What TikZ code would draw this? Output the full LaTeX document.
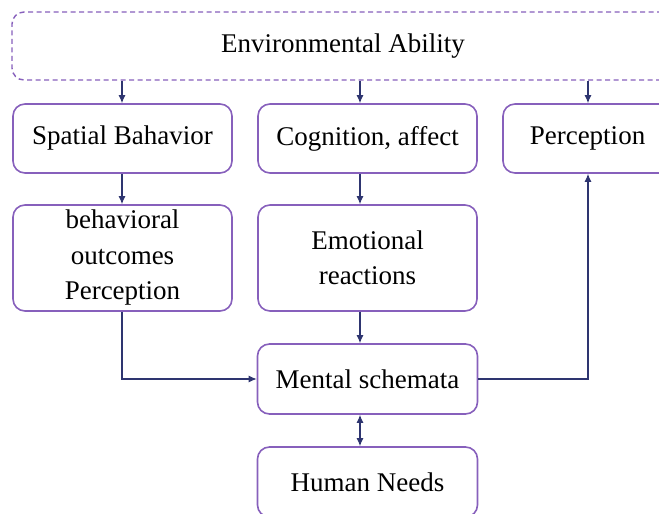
\documentclass[tikz,border=0pt]{standalone}
\usepackage{fontspec}
\setmainfont{Liberation Serif}
\usetikzlibrary{arrows.meta}
\definecolor{boxc}{HTML}{8760BC}
\definecolor{arrc}{HTML}{2E3570}
\begin{document}
\begin{tikzpicture}[x=1pt,y=-1pt,
  box/.style={draw=boxc, line width=1.6pt, rounded corners=12pt, align=center,
    font=\fontsize{27}{35.5}\selectfont, inner sep=0pt, fill=white},
  conn/.style={draw=arrc, line width=1.1pt, -{Latex[length=8pt,width=7pt]}},
  dconn/.style={draw=arrc, line width=1.1pt, {Latex[length=8pt,width=7pt]}-{Latex[length=8pt,width=7pt]}}]
\useasboundingbox (0,0) rectangle (659,514);
\clip (0,0) rectangle (659,514);
\node[box, dash pattern=on 5pt off 3.5pt, line width=1.4pt, minimum width=662pt, minimum height=68pt] (env) at (343,46) {Environmental Ability};
\node[box, minimum width=219pt, minimum height=69pt] (sb) at (122.5,138.5) {Spatial Bahavior};
\node[box, minimum width=219pt, minimum height=69pt] (ca) at (367.5,138.5) {Cognition, affect};
\node[box, minimum width=169pt, minimum height=69pt] (pe) at (587.5,138.5) {Perception};
\node[box, minimum width=219pt, minimum height=106pt] (bo) at (122.5,258) {behavioral\\outcomes\\Perception};
\node[box, minimum width=219pt, minimum height=106pt] (er) at (367.5,258) {Emotional\\reactions};
\node[box, minimum width=220pt, minimum height=70pt] (ms) at (367.5,379) {Mental schemata};
\node[box, minimum width=220pt, minimum height=70pt] (hn) at (367.5,482) {Human Needs};
\coordinate (lx) at (122,0);
\coordinate (mx) at (360,0);
\coordinate (rx) at (588,0);
\draw[conn] (env.south -| lx) -- (sb.north -| lx);
\draw[conn] (env.south -| mx) -- (ca.north -| mx);
\draw[conn] (env.south -| rx) -- (pe.north -| rx);
\draw[conn] (sb.south -| lx) -- (bo.north -| lx);
\draw[conn] (ca.south -| mx) -- (er.north -| mx);
\draw[conn] (er.south -| mx) -- (ms.north -| mx);
\draw[dconn] (ms.south -| mx) -- (hn.north -| mx);
\draw[conn] (bo.south -| lx) |- (ms.west);
\draw[conn] (ms.east) -| (pe.south -| rx);
\end{tikzpicture}
\end{document}
